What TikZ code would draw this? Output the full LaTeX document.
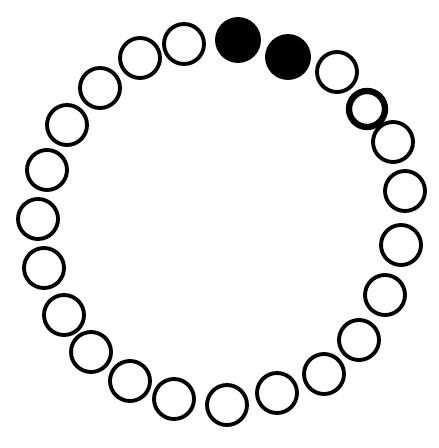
\documentclass[tikz,border=0pt]{standalone}
\usepackage{tikz}
\usepackage{xcolor}
\begin{document}
\begin{tikzpicture}[x=0.02cm,y=-0.02cm,
  bead/.style={circle,draw=black,line width=2.2pt,minimum size=0.8cm,inner sep=0pt},
  fullbead/.style={bead,fill=black,minimum size=0.84cm},
  heavybead/.style={bead,line width=3.6pt,minimum size=0.72cm}]
\useasboundingbox (0,0) rectangle (438,448);
% the two dark ones at the top
\node[fullbead] (b1) at (238,40) {};
\node[fullbead] (b2) at (288,57) {};
% right side, going down
\node[bead] (b3) at (337,72) {};
\node[heavybead] (b4) at (367,109) {};
\node[bead] (b5) at (393,142) {};
\node[bead] (b6) at (405,191) {};
\node[bead] (b7) at (401,245) {};
\node[bead] (b8) at (385,295) {};
\node[bead] (b9) at (359,340) {};
\node[bead] (b10) at (324,374) {};
% bottom
\node[bead] (b11) at (277,393) {};
\node[bead] (b12) at (227,405) {};
\node[bead] (b13) at (174,399) {};
\node[bead] (b14) at (130,381) {};
% left side, going up
\node[bead] (b15) at (91,352) {};
\node[bead] (b16) at (64,315) {};
\node[bead] (b17) at (44,268) {};
\node[bead] (b18) at (38,219) {};
\node[bead] (b19) at (47,170) {};
\node[bead] (b20) at (67,125) {};
\node[bead] (b21) at (100,88) {};
\node[bead] (b22) at (140,58) {};
\node[bead] (b23) at (184,44) {};
\end{tikzpicture}
\end{document}
